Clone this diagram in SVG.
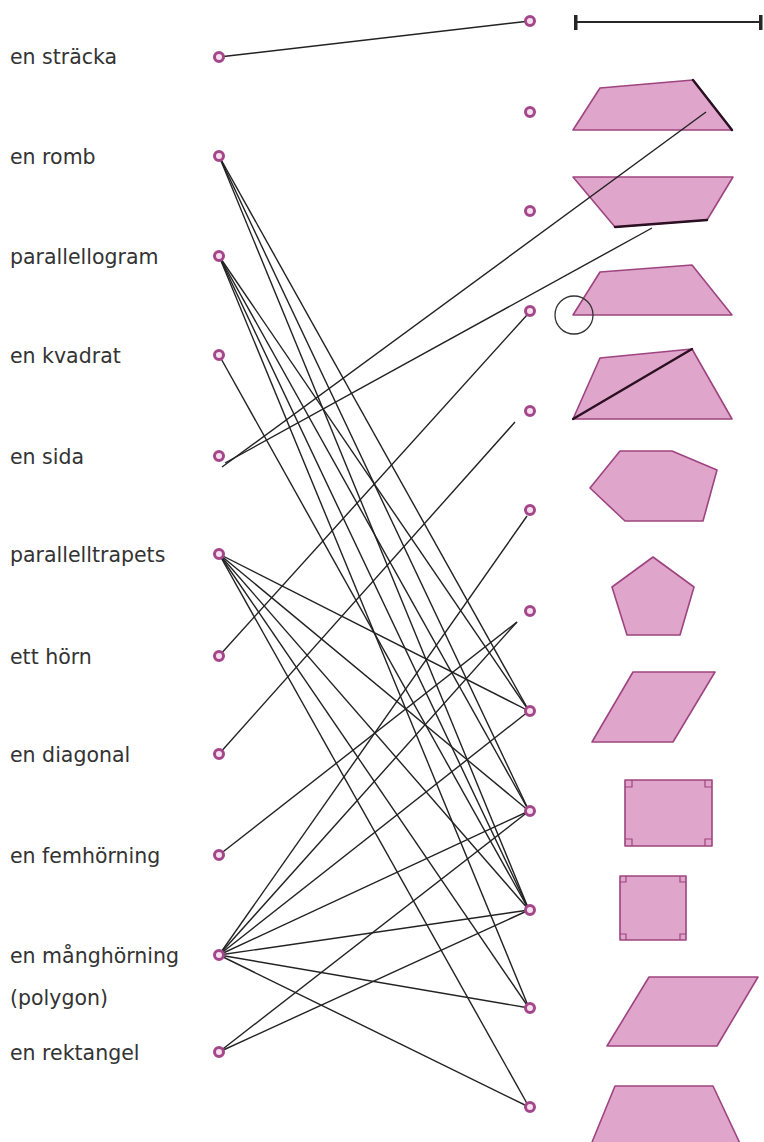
<svg xmlns="http://www.w3.org/2000/svg" width="764" height="1142" viewBox="0 0 764 1142">
<style>
.lbl{font-family:"DejaVu Sans","Liberation Sans",sans-serif;font-size:20.5px;fill:#333}
.dot{fill:#f8e1ee;stroke:#a4468a;stroke-width:3}
.shape{fill:#e0a5cb;stroke:#9e4480;stroke-width:1.6;stroke-linejoin:round}
.mark{fill:none;stroke:#9e4480;stroke-width:1.2}
.hl{stroke:#2a1020;stroke-width:2.4;fill:none;stroke-linecap:round}
.ln{stroke:#222;stroke-width:1.4;fill:none}
</style>
<rect width="764" height="1142" fill="#ffffff"/>

<g id="shapes">
  <g id="shape-segment">
    <line x1="576" y1="22" x2="761" y2="22" stroke="#262626" stroke-width="2"/>
    <rect x="574" y="15" width="3.5" height="15" fill="#262626"/>
    <rect x="759" y="15" width="3.5" height="15" fill="#262626"/>
  </g>
  <g id="shape-trapezoid-side1">
    <polygon class="shape" points="573,130 600,88 693,80 732,130"/>
    <line class="hl" x1="693" y1="80" x2="732" y2="130"/>
  </g>
  <g id="shape-trapezoid-side2">
    <polygon class="shape" points="573,177 733,177 707,220 615,227"/>
    <line class="hl" x1="615" y1="227" x2="707" y2="220"/>
  </g>
  <g id="shape-trapezoid-corner">
    <polygon class="shape" points="573,315 600,272 692,265 732,315"/>
    <circle cx="574" cy="315" r="19" fill="none" stroke="#333" stroke-width="1.3"/>
  </g>
  <g id="shape-trapezoid-diagonal">
    <polygon class="shape" points="573,419 600,358 692,349 732,419"/>
    <line class="hl" x1="573" y1="419" x2="692" y2="349"/>
  </g>
  <g id="shape-hexagon">
    <polygon class="shape" points="590,488 620,451 672,451 717,470 703,521 625,521"/>
  </g>
  <g id="shape-pentagon">
    <polygon class="shape" points="653,557 694,587 680,635 627,635 612,587"/>
  </g>
  <g id="shape-parallelogram">
    <polygon class="shape" points="592,742 633,672 715,672 673,742"/>
  </g>
  <g id="shape-rectangle">
    <rect class="shape" x="625" y="780" width="87" height="66"/>
    <path class="mark" d="M625,787h7v-7M705,780v7h7M625,839h7v7M705,846v-7h7"/>
  </g>
  <g id="shape-square">
    <rect class="shape" x="620" y="876" width="66" height="64"/>
    <path class="mark" d="M620,882h6v-6M680,876v6h6M620,934h6v6M680,940v-6h6"/>
  </g>
  <g id="shape-rhombus">
    <polygon class="shape" points="607,1046 649,977 758,977 717,1046"/>
  </g>
  <g id="shape-trapezoid">
    <polygon class="shape" points="588,1152 615,1086 713,1086 744,1152"/>
  </g>
</g>

<g id="connectors">
  <line class="ln" x1="219" y1="57" x2="530" y2="21"/>
  <line class="ln" x1="222" y1="467" x2="706" y2="112"/>
  <line class="ln" x1="225" y1="463" x2="652" y2="228"/>
  <line class="ln" x1="219" y1="656" x2="527" y2="315"/>
  <line class="ln" x1="219" y1="754" x2="515" y2="422"/>
  <line class="ln" x1="219" y1="855" x2="517" y2="622"/>
  <line class="ln" x1="219" y1="955" x2="527" y2="516"/>
  <line class="ln" x1="219" y1="955" x2="517" y2="622"/>
  <line class="ln" x1="219" y1="955" x2="529" y2="711"/>
  <line class="ln" x1="219" y1="955" x2="529" y2="811"/>
  <line class="ln" x1="219" y1="955" x2="529" y2="910"/>
  <line class="ln" x1="219" y1="955" x2="529" y2="1008"/>
  <line class="ln" x1="219" y1="955" x2="529" y2="1107"/>
  <line class="ln" x1="219" y1="1052" x2="529" y2="811"/>
  <line class="ln" x1="219" y1="1052" x2="529" y2="910"/>
  <line class="ln" x1="219" y1="156" x2="529" y2="711"/>
  <line class="ln" x1="219" y1="156" x2="529" y2="811"/>
  <line class="ln" x1="219" y1="156" x2="529" y2="910"/>
  <line class="ln" x1="219" y1="256" x2="529" y2="711"/>
  <line class="ln" x1="219" y1="256" x2="529" y2="811"/>
  <line class="ln" x1="219" y1="256" x2="529" y2="910"/>
  <line class="ln" x1="219" y1="256" x2="529" y2="1008"/>
  <line class="ln" x1="219" y1="355" x2="529" y2="910"/>
  <line class="ln" x1="219" y1="554" x2="529" y2="711"/>
  <line class="ln" x1="219" y1="554" x2="529" y2="811"/>
  <line class="ln" x1="219" y1="554" x2="529" y2="910"/>
  <line class="ln" x1="219" y1="554" x2="529" y2="1008"/>
  <line class="ln" x1="219" y1="554" x2="529" y2="1107"/>
</g>

<g id="left-nodes">
  <g id="n-stracka"><text class="lbl" x="10" y="64">en sträcka</text><circle class="dot" cx="219" cy="57" r="4.5"/></g>
  <g id="n-romb"><text class="lbl" x="10" y="164">en romb</text><circle class="dot" cx="219" cy="156" r="4.5"/></g>
  <g id="n-parallellogram"><text class="lbl" x="10" y="264">parallellogram</text><circle class="dot" cx="219" cy="256" r="4.5"/></g>
  <g id="n-kvadrat"><text class="lbl" x="10" y="363">en kvadrat</text><circle class="dot" cx="219" cy="355" r="4.5"/></g>
  <g id="n-sida"><text class="lbl" x="10" y="464">en sida</text><circle class="dot" cx="219" cy="456" r="4.5"/></g>
  <g id="n-parallelltrapets"><text class="lbl" x="10" y="562">parallelltrapets</text><circle class="dot" cx="219" cy="554" r="4.5"/></g>
  <g id="n-horn"><text class="lbl" x="10" y="664">ett hörn</text><circle class="dot" cx="219" cy="656" r="4.5"/></g>
  <g id="n-diagonal"><text class="lbl" x="10" y="762">en diagonal</text><circle class="dot" cx="219" cy="754" r="4.5"/></g>
  <g id="n-femhorning"><text class="lbl" x="10" y="863">en femhörning</text><circle class="dot" cx="219" cy="855" r="4.5"/></g>
  <g id="n-manghorning"><text class="lbl" x="10" y="963">en månghörning</text><text class="lbl" x="10" y="1005">(polygon)</text><circle class="dot" cx="219" cy="955" r="4.5"/></g>
  <g id="n-rektangel"><text class="lbl" x="10" y="1060">en rektangel</text><circle class="dot" cx="219" cy="1052" r="4.5"/></g>
</g>

<g id="right-nodes">
  <circle id="r1" class="dot" cx="530" cy="21" r="4.5"/>
  <circle id="r2" class="dot" cx="530" cy="112" r="4.5"/>
  <circle id="r3" class="dot" cx="530" cy="211" r="4.5"/>
  <circle id="r4" class="dot" cx="530" cy="311" r="4.5"/>
  <circle id="r5" class="dot" cx="530" cy="411" r="4.5"/>
  <circle id="r6" class="dot" cx="530" cy="510" r="4.5"/>
  <circle id="r7" class="dot" cx="530" cy="611" r="4.5"/>
  <circle id="r8" class="dot" cx="530" cy="711" r="4.5"/>
  <circle id="r9" class="dot" cx="530" cy="811" r="4.5"/>
  <circle id="r10" class="dot" cx="530" cy="910" r="4.5"/>
  <circle id="r11" class="dot" cx="530" cy="1008" r="4.5"/>
  <circle id="r12" class="dot" cx="530" cy="1107" r="4.5"/>
</g>
</svg>
